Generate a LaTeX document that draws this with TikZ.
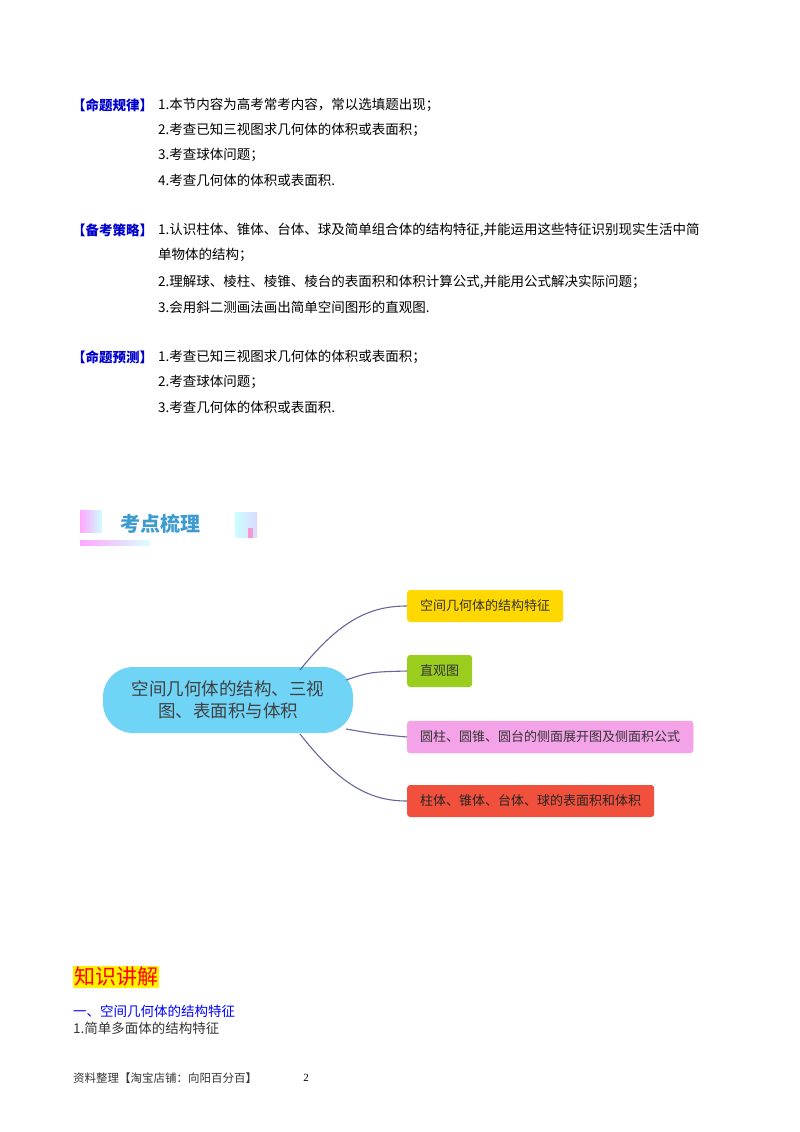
\documentclass[tikz,border=0pt]{standalone}
\usepackage{fontspec}
\setmainfont{Liberation Serif}
\newfontfamily\cjk{Noto Sans CJK SC}
\definecolor{gr}{HTML}{9ACD1E}
\definecolor{rd}{HTML}{F0503C}
\definecolor{yl}{HTML}{FFD800}
\definecolor{pk}{HTML}{F5A3E8}
\definecolor{cy}{HTML}{70D4F7}
\definecolor{hc}{HTML}{3E9BD0}
\begin{document}
\begin{tikzpicture}[x=1pt,y=-1pt,
 txt/.style={anchor=west,inner sep=0,font=\cjk\fontsize{13.5}{15}\selectfont},
 lab/.style={txt,text=blue!80!black,font=\cjk\bfseries\fontsize{13.5}{15}\selectfont},
 br/.style={anchor=west,rounded corners=3pt,minimum height=32,inner xsep=13,font=\cjk\fontsize{13}{14}\selectfont,text=black!80},
 cv/.style={draw=black!65!blue!60,line width=1.1pt}]
\useasboundingbox (0,0) rectangle (800,1132);
\node[lab] (l1) at (72,105) {【命题规律】};
\node[txt] (a1) at (158,105) {1.本节内容为高考常考内容，常以选填题出现；};
\node[txt] (a2) at (158,130) {2.考查已知三视图求几何体的体积或表面积；};
\node[txt] (a3) at (158,155) {3.考查球体问题；};
\node[txt] (a4) at (158,180) {4.考查几何体的体积或表面积.};
\node[lab] (l2) at (72,230) {【备考策略】};
\node[txt] (b1) at (158,230) {1.认识柱体、锥体、台体、球及简单组合体的结构特征,并能运用这些特征识别现实生活中简};
\node[txt] (b1b) at (158,255) {单物体的结构；};
\node[txt] (b2) at (158,282) {2.理解球、棱柱、棱锥、棱台的表面积和体积计算公式,并能用公式解决实际问题；};
\node[txt] (b3) at (158,307) {3.会用斜二测画法画出简单空间图形的直观图.};
\node[lab] (l3) at (72,357) {【命题预测】};
\node[txt] (c1) at (158,357) {1.考查已知三视图求几何体的体积或表面积；};
\node[txt] (c2) at (158,382) {2.考查球体问题；};
\node[txt] (c3) at (158,407) {3.考查几何体的体积或表面积.};
% heading
\shade[left color=magenta!35,right color=cyan!20] (80,510) rectangle (102,532);
\shade[left color=cyan!20,right color=blue!15] (235,512) rectangle (257,537);
\fill[magenta!40] (248,528) rectangle (253,538);
\shade[left color=magenta!35,right color=cyan!15] (80,540) rectangle (150,545);
\node[anchor=west,inner sep=0,font=\cjk\bfseries\fontsize{20}{22}\selectfont,text=hc] (hd) at (120,524) {考点梳理};
% mind map
\node[fill=cy,rounded corners=30pt,minimum width=250,minimum height=66,align=center,
 font=\cjk\fontsize{17.5}{22}\selectfont,text=black!75] (c) at (228,700) {空间几何体的结构、三视\\图、表面积与体积};
\node[br,fill=yl] (n1) at (407,606) {空间几何体的结构特征};
\node[br,fill=gr] (n2) at (407,671) {直观图};
\node[br,fill=pk,draw=magenta!35] (n3) at (407,737) {圆柱、圆锥、圆台的侧面展开图及侧面积公式};
\node[br,fill=rd,text=black!85] (n4) at (407,801) {柱体、锥体、台体、球的表面积和体积};
\draw[cv] (300,670) .. controls (340,620) and (370,606) .. (n1.west);
\draw[cv] (346,680) .. controls (370,672) .. (n2.west);
\draw[cv] (346,729) .. controls (375,734) .. (n3.west);
\draw[cv] (300,734) .. controls (340,785) and (370,801) .. (n4.west);
% bottom
\node[anchor=west,fill=yellow,inner sep=1pt,text=red,font=\cjk\fontsize{21}{23}\selectfont] (kz) at (73,977) {知识讲解};
\node[anchor=west,inner sep=0,text=blue,font=\cjk\fontsize{13.5}{15}\selectfont] (s1) at (73,1011) {一、空间几何体的结构特征};
\node[txt,text=black!80] (s2) at (73,1028) {1.简单多面体的结构特征};
\node[anchor=west,inner sep=0,font=\cjk\fontsize{11.5}{13}\selectfont,text=black!80] (ft) at (73,1078) {资料整理【淘宝店铺：向阳百分百】};
\node[inner sep=0,font=\fontsize{11}{13}\selectfont] (pg) at (306,1078) {2};
\end{tikzpicture}
\end{document}
